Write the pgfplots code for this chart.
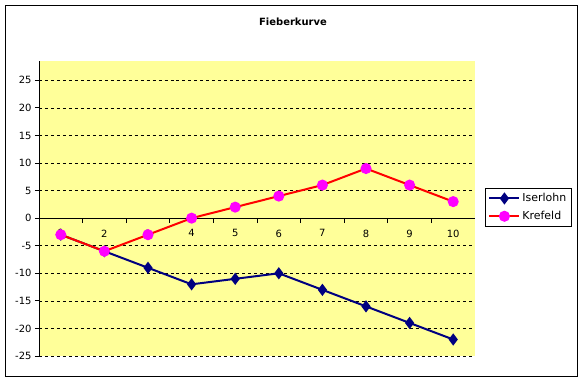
\documentclass[border=0pt]{standalone}
\usepackage{pgfplots}
\pgfplotsset{compat=1.18}
\usepackage{fontspec}
\setmainfont{DejaVu Sans}
\definecolor{plotbg}{HTML}{FFFF99}
\definecolor{navyc}{HTML}{000080}
\definecolor{magen}{HTML}{FF00FF}
\begin{document}
\begin{tikzpicture}[x=1bp,y=1bp]
\path[fill=white] (0,0) rectangle (582,-381);
\draw[line width=1bp] (5,-5) rectangle (577,-376);
\node[font=\fontsize{10}{12}\selectfont\bfseries] at (293,-22) {Fieberkurve};
\begin{axis}[
  at={(39bp,-356bp)}, anchor=south west,
  scale only axis, width=436bp, height=295bp,
  xmin=0.5, xmax=10.5, ymin=-25, ymax=28.5,
  axis x line=middle, axis y line=left,
  axis line style={-, line width=0.8bp, black},
  xtick={1,...,10},
  minor xtick={1.5,2.5,...,9.5},
  major x tick style={draw=none},
  minor x tick style={black, line width=0.8bp},
  minor tick length=5bp,
  major tick length=4bp,
  tick align=outside,
  ytick={-25,-20,...,25},
  y tick style={black, line width=0.8bp},
  ymajorgrids,
  grid style={dashed, black, line width=0.7bp},
  axis background/.style={fill=plotbg},
  /pgf/number format/assume math mode=true,
  tick label style={font=\fontsize{10}{12}\selectfont},
  xticklabel style={yshift=-4bp},
  clip=false,
  legend style={at={(1.023,0.569)}, anchor=north west, draw=black, line width=0.8bp,
    font=\fontsize{11}{13}\selectfont, inner sep=3bp, row sep=4bp},
  legend image code/.code={\draw[mark repeat=2,mark phase=2,#1] plot coordinates {(0bp,0bp) (15bp,0bp) (30bp,0bp)};},
  legend cell align=left,
]
\addplot[navyc, line width=2bp, mark=diamond*, mark size=4.5bp, mark options={fill=navyc, draw=navyc}]
 coordinates {(1,-3) (2,-6) (3,-9) (4,-12) (5,-11) (6,-10) (7,-13) (8,-16) (9,-19) (10,-22)};
\addlegendentry{Iserlohn}
\addplot[red, line width=2bp, mark=*, mark size=4.5bp, mark options={fill=magen, draw=magen}]
 coordinates {(1,-3) (2,-6) (3,-3) (4,0) (5,2) (6,4) (7,6) (8,9) (9,6) (10,3)};
\addlegendentry{Krefeld}
\end{axis}
\end{tikzpicture}
\end{document}
